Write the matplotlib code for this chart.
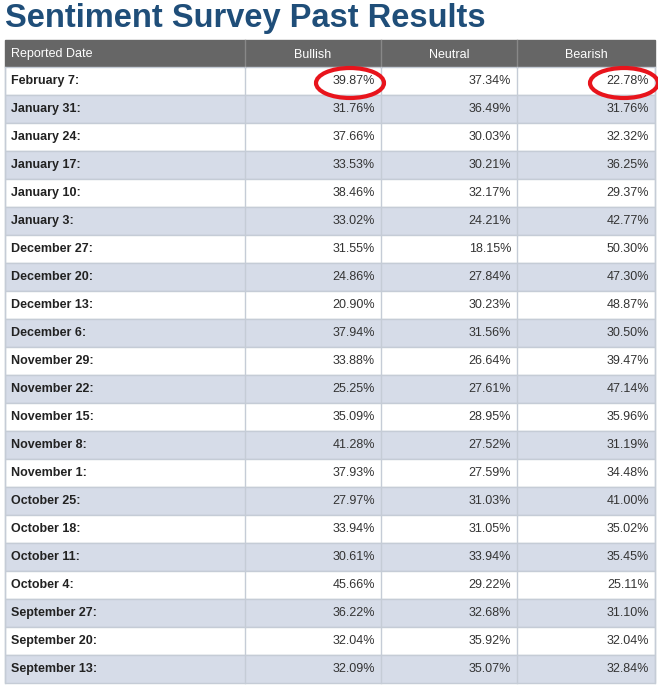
import matplotlib.pyplot as plt
from matplotlib.patches import Rectangle, Ellipse

dates = ["February 7:", "January 31:", "January 24:", "January 17:", "January 10:", "January 3:",
         "December 27:", "December 20:", "December 13:", "December 6:", "November 29:",
         "November 22:", "November 15:", "November 8:", "November 1:", "October 25:",
         "October 18:", "October 11:", "October 4:", "September 27:", "September 20:",
         "September 13:"]
bullish = [39.87, 31.76, 37.66, 33.53, 38.46, 33.02, 31.55, 24.86, 20.90, 37.94, 33.88,
           25.25, 35.09, 41.28, 37.93, 27.97, 33.94, 30.61, 45.66, 36.22, 32.04, 32.09]
neutral = [37.34, 36.49, 30.03, 30.21, 32.17, 24.21, 18.15, 27.84, 30.23, 31.56, 26.64,
           27.61, 28.95, 27.52, 27.59, 31.03, 31.05, 33.94, 29.22, 32.68, 35.92, 35.07]
bearish = [22.78, 31.76, 32.32, 36.25, 29.37, 42.77, 50.30, 47.30, 48.87, 30.50, 39.47,
           47.14, 35.96, 31.19, 34.48, 41.00, 35.02, 35.45, 25.11, 31.10, 32.04, 32.84]
headers = ["Reported Date", "Bullish", "Neutral", "Bearish"]

W, H = 658, 687
fig = plt.figure(figsize=(W / 100, H / 100), dpi=100)
ax = fig.add_axes([0, 0, 1, 1])
ax.set_xlim(0, W)
ax.set_ylim(H, 0)
ax.axis("off")

font = "Liberation Sans"
ax.text(5, 19, "Sentiment Survey Past Results", fontsize=23.5, fontweight="bold",
        color="#1f4e79", family=font, va="center", ha="left")

cols = [5, 245, 381, 517, 655]
top, hh, rh = 40, 27, 28
border = "#c5ccd6"

ax.add_patch(Rectangle((cols[0], top), cols[-1] - cols[0], hh, color="#666666", zorder=1))
for i, h in enumerate(headers):
    if i == 0:
        ax.text(cols[0] + 6, top + hh / 2 + 1, h, color="white", fontsize=9, family=font, va="center")
    else:
        ax.text((cols[i] + cols[i + 1]) / 2, top + hh / 2 + 1, h, color="white", fontsize=9,
                family=font, va="center", ha="center")
for c in cols[1:-1]:
    ax.plot([c, c], [top, top + hh], color="#888888", lw=1, zorder=2)

for r, d in enumerate(dates):
    y0 = top + hh + r * rh
    bg = "white" if r % 2 == 0 else "#d6dce8"
    ax.add_patch(Rectangle((cols[0], y0), cols[-1] - cols[0], rh, facecolor=bg,
                           edgecolor=border, lw=1, zorder=1))
    yc = y0 + rh / 2
    ax.text(cols[0] + 6, yc, d, fontsize=9, fontweight="bold", family=font, va="center",
            color="#222222")
    for i, v in enumerate([bullish[r], neutral[r], bearish[r]]):
        ax.text(cols[i + 2] - 6, yc, f"{v:.2f}%", fontsize=9, family=font, va="center",
                ha="right", color="#333333")
for c in cols:
    ax.plot([c, c], [top + hh, top + hh + len(dates) * rh], color=border, lw=1, zorder=2)

# red highlight circles on the first row
yc = top + hh + rh / 2
for c in [cols[2], cols[4]]:
    ax.add_patch(Ellipse((c - 31, yc + 2), 68, 30, fill=False, edgecolor="#e8141c", lw=3, zorder=3))

fig.savefig("out.png", dpi=100)
